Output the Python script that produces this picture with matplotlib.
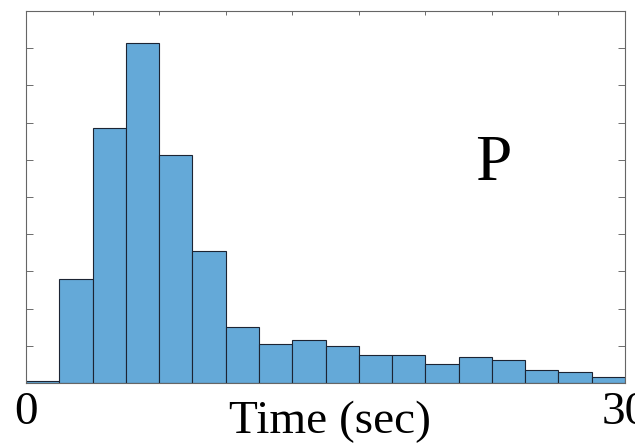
import numpy as np
import matplotlib.pyplot as plt

plt.rcParams['font.family'] = ['Liberation Serif', 'DejaVu Serif']

# ---------------------------------------------------------------------------
# Data (18 bins over 0-30 s, arbitrary count units)
# ---------------------------------------------------------------------------
T_MIN, T_MAX = 0, 30
N_BINS = 18
bin_heights = [0.05, 2.79, 6.85, 9.13, 6.14, 3.55, 1.50, 1.04, 1.16,
               0.99, 0.74, 0.74, 0.50, 0.70, 0.61, 0.36, 0.30, 0.15]
x_tick_labels = ['0', '30']
panel_label = 'P'
x_label = 'Time (sec)'

bin_edges = np.linspace(T_MIN, T_MAX, N_BINS + 1)
bin_width = bin_edges[1] - bin_edges[0]

fig = plt.figure(figsize=(6.35, 4.43), dpi=100)
ax = fig.add_axes([26 / 635, 1 - 383 / 443, 599 / 635, 372 / 443])

ax.bar(bin_edges[:-1], bin_heights, width=bin_width, align='edge',
       color='#64A9D8', edgecolor='#1c2433', linewidth=0.8, zorder=2)

ax.set_xlim(T_MIN, T_MAX)
ax.set_ylim(0, 10)

# top ticks every two bins, labels only at the ends
xt = np.linspace(T_MIN, T_MAX, 10)
ax.set_xticks(xt)
ax.set_xticklabels([x_tick_labels[0]] + [''] * 8 + [x_tick_labels[1]],
                   fontsize=34)
ax.tick_params(axis='x', direction='in', bottom=False, top=True,
               labelbottom=True, length=3, width=0.6, color='#555555', pad=6)
ax.set_yticks(np.arange(1, 10))
ax.set_yticklabels([])
ax.tick_params(axis='y', direction='in', left=True, right=True,
               length=5, width=0.6, color='#555555')

for s in ax.spines.values():
    s.set_color('#666666')
    s.set_linewidth(0.8)

ax.set_xlabel(x_label, fontsize=34, va='baseline')
ax.xaxis.set_label_coords(0.5075, -0.1344)
ax.text(0.780, 0.546, panel_label, transform=ax.transAxes, fontsize=47,
        ha='center', va='baseline')

fig.savefig('out.png', dpi=100)
